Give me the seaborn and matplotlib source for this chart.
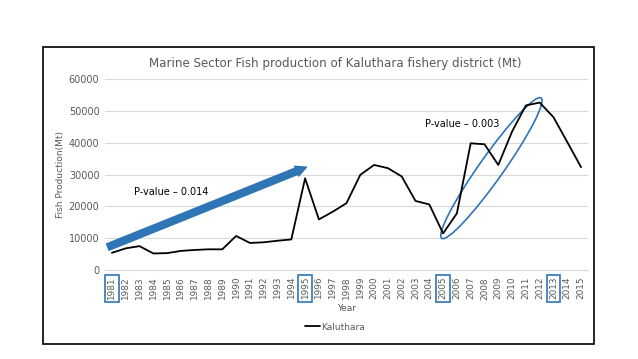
import numpy as np
import pandas as pd
import seaborn as sns
import matplotlib.pyplot as plt
from matplotlib.patches import Ellipse, Rectangle
from matplotlib.transforms import ScaledTranslation

years = list(range(1981, 2016))
production = [5400, 6800, 7500, 5200, 5300, 6000, 6300, 6500, 6500, 10700,
              8500, 8700, 9200, 9600, 28800, 15900, 18300, 21000, 29900, 33000,
              32000, 29400, 21700, 20600, 11500, 17800, 39800, 39500, 33000, 43500,
              51700, 52600, 48000, 40200, 32300]
marked_years = ['1981', '1995', '2005', '2013']

data = pd.DataFrame({'Year': [str(y) for y in years], 'Kaluthara': production})
data['pos'] = np.arange(len(data))

sns.set_style('white')
plt.rcParams['font.family'] = ['DejaVu Sans']

fig = plt.figure(figsize=(6.38, 3.59), dpi=100)
ax = fig.add_axes([0.1646, 0.2479, 0.757, 0.532])

blue = '#2E75B6'
grey = '#595959'

sns.lineplot(data=data, x='pos', y='Kaluthara', color='black', linewidth=1.3,
             ax=ax, label='Kaluthara', legend=False)

ax.set_xlim(-0.5, len(data) - 0.5)
ax.set_ylim(0, 60000)
ax.set_yticks(range(0, 60001, 10000))
ax.set_yticklabels([str(v) for v in range(0, 60001, 10000)], fontsize=7, color=grey)
ax.set_xticks(data['pos'])
ax.set_xticklabels(data['Year'], rotation=90, fontsize=6.4, color=grey)
ax.tick_params(axis='both', length=0, pad=4)
ax.tick_params(axis='x', pad=5)
ax.grid(axis='y', color='#D9D9D9', linewidth=0.8)
for s in ['top', 'right', 'left']:
    ax.spines[s].set_visible(False)
ax.spines['bottom'].set_color('#D9D9D9')

for lbl in ax.get_xticklabels():
    if lbl.get_text() in marked_years:
        lbl.set_bbox(dict(facecolor='none', edgecolor=blue, linewidth=1.2, pad=1.6))

ax.set_xlabel('Year', fontsize=6.5, color=grey, labelpad=3)
ax.set_ylabel('Fish Production(Mt)', fontsize=6.5, color=grey, labelpad=3)
ax.set_title('Marine Sector Fish production of Kaluthara fishery district (Mt)',
             fontsize=8.6, color=grey, pad=9, x=0.476)

# trend arrow
ax.annotate('', xy=(14.1, 32300), xytext=(-0.3, 7200),
            arrowprops=dict(arrowstyle='simple,head_length=0.85,head_width=0.85,tail_width=0.55',
                            color=blue, shrinkA=0, shrinkB=0, mutation_scale=9))
ax.text(1.6, 24600, 'P-value – 0.014', fontsize=7, color='black', va='center')
ax.text(22.7, 45800, 'P-value – 0.003', fontsize=7, color='black', va='center')

# ellipse around the 2005-2012 rise
ell = Ellipse((0, 0), 1.72, 0.24, angle=54.7, fill=False, edgecolor=blue, linewidth=1.2,
              transform=fig.dpi_scale_trans + ScaledTranslation(27.5, 32000, ax.transData))
ax.add_patch(ell)

fig.legend(loc='center', bbox_to_anchor=(0.525, 0.089), frameon=False, fontsize=6.5,
           handlelength=1.6, handletextpad=0.1, labelcolor=grey)

fig.patches.append(Rectangle((43 / 638, 1 - 344 / 359), 551 / 638, 297 / 359,
                             transform=fig.transFigure, fill=False, edgecolor='black',
                             linewidth=1.2))

fig.savefig('out.png', dpi=100)
